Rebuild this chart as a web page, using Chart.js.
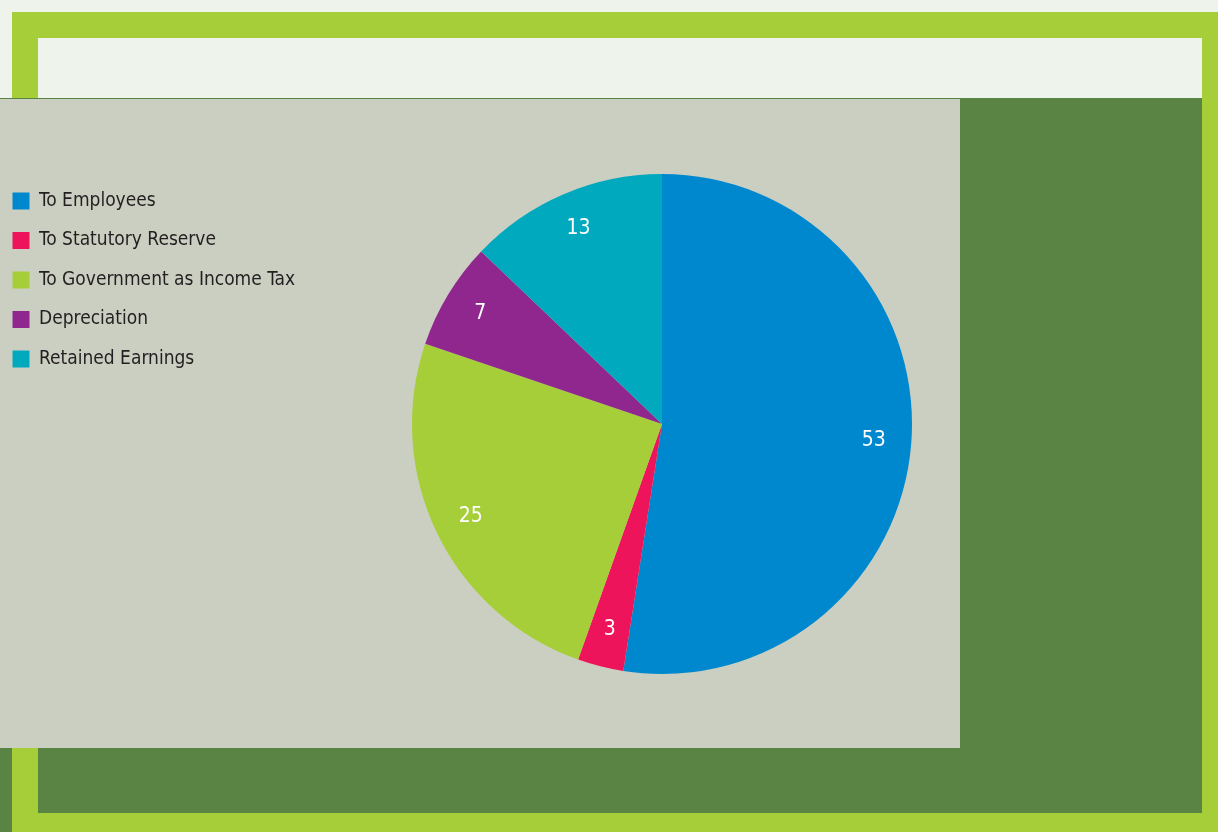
<!DOCTYPE html>
<html>
<head>
<meta charset="utf-8">
<script src="https://cdn.jsdelivr.net/npm/chart.js@4"></script>
<style>
  html, body { margin: 0; padding: 0; width: 1218px; height: 832px; overflow: hidden; background: #eef3ec; }
  .blk { position: absolute; }
  #lime { left: 12px; top: 12px; width: 1206px; height: 820px; background: #a6ce39; }
  #topPanel { left: 38px; top: 38px; width: 1164px; height: 60px; background: #eef3ec; }
  #dark { left: 38px; top: 98px; width: 1164px; height: 715px; background: #5a8443; }
  #darkLeft { left: 0; top: 98px; width: 12px; height: 734px; background: #5a8443; }
  #gray { left: 0; top: 98px; width: 960px; height: 650px; background: #cbcfc1; border-top: 1px solid #5a8443; box-sizing: border-box; }
  #wrap { position: absolute; left: -8px; top: 98px; width: 968px; height: 650px; }
</style>
</head>
<body>
<div class="blk" id="lime"></div>
<div class="blk" id="topPanel"></div>
<div class="blk" id="dark"></div>
<div class="blk" id="darkLeft"></div>
<div class="blk" id="gray"></div>
<div id="wrap"><canvas id="myChart"></canvas></div>
<script>
const categories = ["To Employees", "To Statutory Reserve", "To Government as Income Tax", "Depreciation", "Retained Earnings"];
const shares = [53, 3, 25, 7, 13];
const colors = ["#0088cf", "#ee145b", "#a6ce39", "#90278e", "#00a9bd"];

const FONT = "'Liberation Sans Narrow', 'DejaVu Sans Condensed', sans-serif";
const LEGEND_W = 420;

// keep the legend a fixed width so the pie sits where it should
const fixLegendWidth = {
    id: "fixLegendWidth",
    beforeLayout(chart) {
        const lg = chart.legend;
        if (lg && !lg._patched) {
            const fit = lg.fit;
            lg.fit = function () { fit.call(this); this.width = LEGEND_W; };
            lg._patched = true;
        }
    }
};

// numbers inside the slices
const sliceLabels = {
    id: "sliceLabels",
    afterDatasetsDraw(chart) {
        const ctx = chart.ctx;
        const meta = chart.getDatasetMeta(0);
        ctx.save();
        ctx.fillStyle = "#ffffff";
        ctx.font = "21px " + FONT;
        ctx.textAlign = "center";
        ctx.textBaseline = "middle";
        meta.data.forEach((arc, i) => {
            const p = arc.getProps(["x", "y", "startAngle", "endAngle", "outerRadius"], true);
            const mid = (p.startAngle + p.endAngle) / 2;
            const r = p.outerRadius * 0.85;
            ctx.fillText(String(shares[i]), p.x + Math.cos(mid) * r, p.y + Math.sin(mid) * r);
        });
        ctx.restore();
    }
};

new Chart(document.getElementById("myChart").getContext("2d"), {
    type: "pie",
    data: {
        labels: categories,
        datasets: [{
            data: shares,
            backgroundColor: colors,
            borderWidth: 0
        }]
    },
    options: {
        responsive: true,
        maintainAspectRatio: false,
        animation: false,
        layout: { padding: { top: 73, bottom: 71, left: 0, right: 48 } },
        plugins: {
            tooltip: { enabled: false },
            legend: {
                position: "left",
                align: "start",
                labels: {
                    boxWidth: 17,
                    boxHeight: 17,
                    padding: 20.5,
                    color: "#231f20",
                    font: { family: FONT, size: 19 }
                }
            }
        }
    },
    plugins: [fixLegendWidth, sliceLabels]
});
</script>
</body>
</html>
